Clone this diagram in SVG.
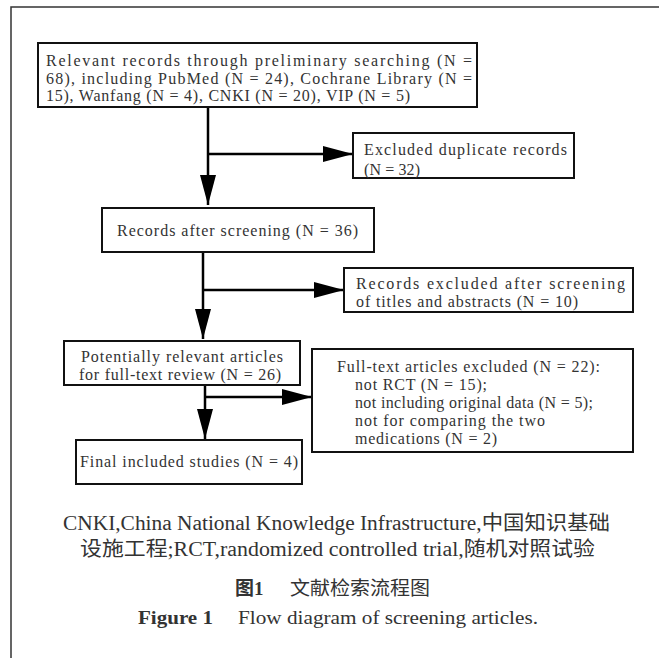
<svg xmlns="http://www.w3.org/2000/svg" width="659" height="658" viewBox="0 0 659 658">
<style>
.box{fill:#fff;stroke:#111;stroke-width:2}
text{font-family:'Liberation Serif','Times New Roman',serif;fill:#333}
.t{font-size:16px}
.c{font-size:20px}
.f{font-size:19px}
.cjk{font-family:'Noto Sans CJK SC','Noto Sans CJK TC',sans-serif}
.b{font-weight:bold}
.ln{stroke:#000;stroke-width:2.5;fill:none}
.frame{stroke:#333;stroke-width:1.5;fill:none}
</style>
<defs>
<marker id="ah" markerUnits="userSpaceOnUse" markerWidth="30" markerHeight="16" viewBox="0 0 30 16" refX="30" refY="8" orient="auto">
<path d="M0,0 L30,8 L0,16 z" fill="#000"/>
</marker>
</defs>
<rect width="659" height="658" fill="#fff"/>
<path class="frame" d="M11,658 V7 H659"/>
<g id="connectors">
<path class="ln" d="M208,107 V205" marker-end="url(#ah)"/>
<path class="ln" d="M208,154 H353" marker-end="url(#ah)"/>
<path class="ln" d="M203,252 V339" marker-end="url(#ah)"/>
<path class="ln" d="M203,290 H344" marker-end="url(#ah)"/>
<path class="ln" d="M205,385 V439" marker-end="url(#ah)"/>
<path class="ln" d="M205,397 H312" marker-end="url(#ah)"/>
</g>
<g id="n1">
<rect class="box" x="38" y="43" width="439" height="64"/>
<text class="t" x="46" y="66" textLength="426" lengthAdjust="spacing">Relevant records through preliminary searching (N =</text>
<text class="t" x="46" y="84" textLength="426" lengthAdjust="spacing">68), including PubMed (N = 24), Cochrane Library (N =</text>
<text class="t" x="46" y="101" textLength="364" lengthAdjust="spacing">15), Wanfang (N = 4), CNKI (N = 20), VIP (N = 5)</text>
</g>
<g id="n2">
<rect class="box" x="353" y="133" width="221" height="45"/>
<text class="t" x="364" y="155" textLength="203" lengthAdjust="spacing">Excluded duplicate records</text>
<text class="t" x="364" y="175" textLength="56" lengthAdjust="spacing">(N = 32)</text>
</g>
<g id="n3">
<rect class="box" x="102" y="208" width="272" height="44"/>
<text class="t" x="117" y="236" textLength="241" lengthAdjust="spacing">Records after screening (N = 36)</text>
</g>
<g id="n4">
<rect class="box" x="344" y="268" width="289" height="44"/>
<text class="t" x="356" y="289" textLength="269" lengthAdjust="spacing">Records excluded after screening</text>
<text class="t" x="356" y="307" textLength="222" lengthAdjust="spacing">of titles and abstracts (N = 10)</text>
</g>
<g id="n5">
<rect class="box" x="64" y="341" width="236" height="44"/>
<text class="t" x="81" y="362" textLength="202" lengthAdjust="spacing">Potentially relevant articles</text>
<text class="t" x="79" y="380" textLength="202" lengthAdjust="spacing">for full-text review (N = 26)</text>
</g>
<g id="n6">
<rect class="box" x="312" y="349" width="321" height="103"/>
<text class="t" x="337" y="372" textLength="263" lengthAdjust="spacing">Full-text articles excluded (N = 22):</text>
<text class="t" x="355" y="390" textLength="132" lengthAdjust="spacing">not RCT (N = 15);</text>
<text class="t" x="355" y="408" textLength="238" lengthAdjust="spacing">not including original data (N = 5);</text>
<text class="t" x="355" y="426" textLength="190" lengthAdjust="spacing">not for comparing the two</text>
<text class="t" x="355" y="444" textLength="142" lengthAdjust="spacing">medications (N = 2)</text>
</g>
<g id="n7">
<rect class="box" x="76" y="440" width="226" height="44"/>
<text class="t" x="80" y="467" textLength="218" lengthAdjust="spacing">Final included studies (N = 4)</text>
</g>
<g id="caption">
<text class="c" x="63" y="530" textLength="547" lengthAdjust="spacingAndGlyphs">CNKI,China National Knowledge Infrastructure,<tspan class="cjk">中国知识基础</tspan></text>
<text class="c" x="80" y="556" textLength="515" lengthAdjust="spacingAndGlyphs"><tspan class="cjk">设施工程</tspan>;RCT,randomized controlled trial,<tspan class="cjk">随机对照试验</tspan></text>
<text class="f b cjk" x="235" y="595">图<tspan font-family="Liberation Serif">1</tspan></text>
<text class="f cjk" x="290" y="595" textLength="140" lengthAdjust="spacingAndGlyphs">文献检索流程图</text>
<text class="f b" x="138" y="624" textLength="75" lengthAdjust="spacingAndGlyphs">Figure 1</text>
<text class="f" x="238" y="624" textLength="300" lengthAdjust="spacingAndGlyphs">Flow diagram of screening articles.</text>
</g>
</svg>
